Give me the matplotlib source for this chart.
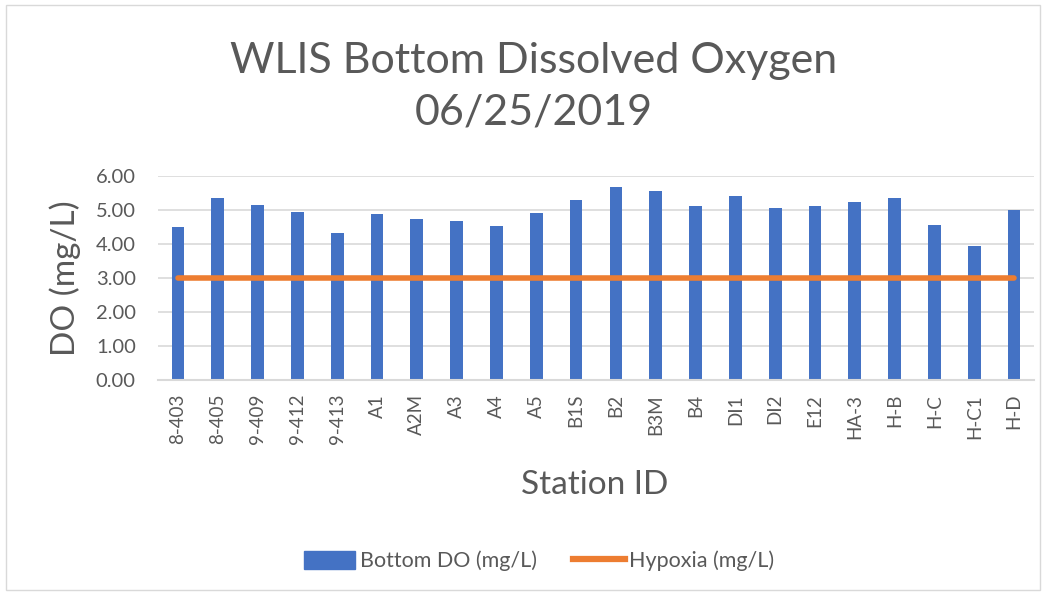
import matplotlib.pyplot as plt
import matplotlib.patches as mpatches
from matplotlib.lines import Line2D
import numpy as np

# station data
stations = ['8-403', '8-405', '9-409', '9-412', '9-413', 'A1', 'A2M', 'A3', 'A4', 'A5',
            'B1S', 'B2', 'B3M', 'B4', 'DI1', 'DI2', 'E12', 'HA-3', 'H-B', 'H-C', 'H-C1', 'H-D']
bottom_do = [4.49, 5.35, 5.14, 4.94, 4.33, 4.87, 4.75, 4.69, 4.53, 4.91,
             5.28, 5.68, 5.57, 5.13, 5.40, 5.05, 5.11, 5.23, 5.34, 4.55, 3.94, 5.00]
hypoxia = [3.0] * len(stations)
yticks = [0, 1, 2, 3, 4, 5, 6]

blue = '#4472C4'
orange = '#ED7D31'
grey_txt = '#595959'
grid_col = '#D9D9D9'

plt.rcParams['font.family'] = ['Lato', 'DejaVu Sans']

fig = plt.figure(figsize=(10.5, 5.95), dpi=100)
ax = fig.add_axes([158 / 1050, 1 - 380 / 595, (1034 - 158) / 1050, (380 - 176) / 595])

x = np.arange(len(stations))
ax.bar(x, bottom_do, width=0.32, color=blue, zorder=2, label='Bottom DO (mg/L)')
ax.plot(x, hypoxia, color=orange, lw=4, solid_capstyle='round', zorder=3, label='Hypoxia (mg/L)')

ax.set_xlim(-0.5, len(stations) - 0.5)
ax.set_ylim(0, 6)
ax.set_yticks(yticks)
ax.set_yticklabels([f'{v:.2f}' for v in yticks], fontsize=14.5, color=grey_txt)
ax.set_xticks(x)
ax.set_xticklabels(stations, rotation=90, fontsize=13.5, color=grey_txt)
ax.tick_params(axis='y', length=0, pad=16)
ax.tick_params(axis='x', length=0, pad=10)
ax.yaxis.grid(True, color=grid_col, lw=1.2, zorder=0)
for s in ['top', 'right', 'left']:
    ax.spines[s].set_visible(False)
ax.spines['bottom'].set_color(grid_col)
ax.spines['bottom'].set_linewidth(1.5)

fig.text(65 / 1050, 1 - 278 / 595, 'DO (mg/L)', fontsize=24, color=grey_txt,
         rotation=90, ha='center', va='center')
fig.text(595 / 1050, 1 - 485 / 595, 'Station ID', fontsize=24, color=grey_txt,
         ha='center', va='center')
fig.text(534 / 1050, 1 - 87 / 595, 'WLIS Bottom Dissolved Oxygen\n06/25/2019',
         fontsize=31, color=grey_txt, ha='center', va='center', linespacing=1.45)

handles = [mpatches.Patch(color=blue), Line2D([], [], color=orange, lw=4.5)]
fig.legend(handles, ['Bottom DO (mg/L)', 'Hypoxia (mg/L)'], loc='center',
           bbox_to_anchor=(539 / 1050, 1 - 561 / 595), ncol=2, frameon=False,
           fontsize=15.5, labelcolor=grey_txt, handlelength=2.4, handleheight=0.9,
           handletextpad=0.2, columnspacing=1.7)

# chart frame
fig.patches.append(mpatches.Rectangle((6 / 1050, 5 / 595), (1040 - 6) / 1050, (590 - 5) / 595,
                                      transform=fig.transFigure, fill=False,
                                      edgecolor=grid_col, lw=1))

fig.savefig('out.png', dpi=100, facecolor='white')
